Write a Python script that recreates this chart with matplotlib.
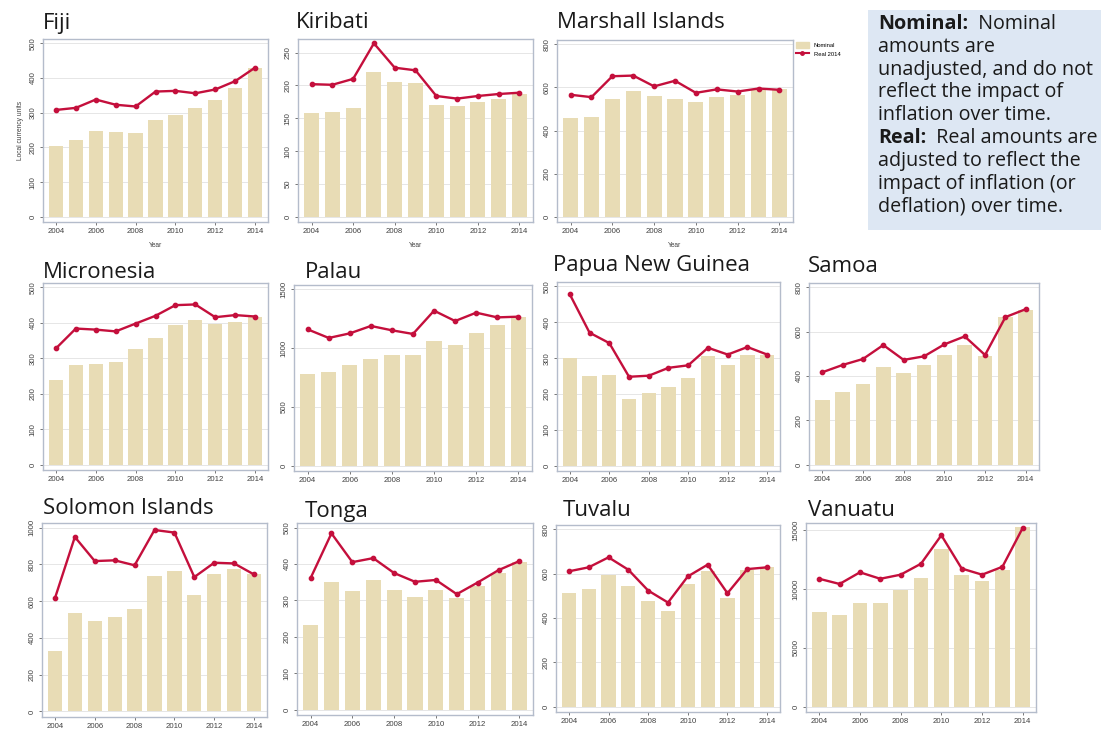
import matplotlib
matplotlib.use("Agg")
import matplotlib.pyplot as plt
from matplotlib.patches import Rectangle
from matplotlib.lines import Line2D

years = list(range(2004, 2015))

fiji_nominal = [205, 221, 247, 243, 242, 279, 293, 313, 337, 371, 428]
fiji_real = [308, 314, 338, 323, 318, 361, 363, 356, 367, 391, 430]

kiribati_nominal = [158, 159, 166, 220, 205, 203, 170, 169, 175, 180, 187]
kiribati_real = [202, 201, 210, 264, 227, 223, 184, 180, 184, 187, 189]

marshall_nominal = [458, 461, 546, 585, 558, 545, 531, 554, 565, 588, 592]
marshall_real = [566, 555, 652, 655, 605, 631, 575, 591, 581, 595, 589]

micronesia_nominal = [238, 282, 284, 290, 325, 358, 393, 408, 398, 403, 417]
micronesia_real = [328, 384, 381, 376, 398, 420, 450, 452, 416, 422, 418]

palau_nominal = [781, 798, 857, 906, 940, 945, 1064, 1027, 1132, 1200, 1268]
palau_real = [1160, 1087, 1126, 1189, 1152, 1121, 1319, 1231, 1302, 1262, 1268]

png_nominal = [300, 251, 253, 186, 203, 219, 244, 306, 280, 308, 310]
png_real = [478, 371, 342, 248, 251, 273, 280, 329, 310, 331, 310]

samoa_nominal = [294, 327, 366, 440, 414, 450, 495, 542, 489, 665, 700]
samoa_real = [417, 450, 477, 540, 473, 489, 543, 579, 495, 666, 702]

solomon_nominal = [331, 535, 491, 513, 555, 736, 765, 635, 747, 776, 745]
solomon_real = [616, 949, 818, 822, 795, 987, 973, 731, 809, 805, 745]

tonga_nominal = [233, 351, 326, 357, 329, 309, 329, 307, 340, 375, 405]
tonga_real = [361, 484, 405, 416, 375, 351, 356, 317, 349, 383, 408]

tuvalu_nominal = [515, 532, 595, 545, 477, 432, 555, 614, 492, 618, 630]
tuvalu_real = [611, 629, 674, 618, 524, 470, 588, 641, 512, 621, 629]

vanuatu_nominal = [8010, 7810, 8830, 8830, 9880, 10920, 13400, 11160, 10720, 11590, 15230]
vanuatu_real = [10870, 10430, 11420, 10870, 11220, 12150, 14570, 11740, 11220, 11890, 15200]

y_ticks = {
    "Fiji": (500, 100), "Kiribati": (250, 50), "Marshall Islands": (800, 200),
    "Micronesia": (500, 100), "Palau": (1500, 500), "Papua New Guinea": (500, 100),
    "Samoa": (800, 200), "Solomon Islands": (1000, 200), "Tonga": (500, 100),
    "Tuvalu": (800, 200), "Vanuatu": (15000, 5000),
}

W, H = 1101, 731
BAR_COLOR = "#e8dcb5"
LINE_COLOR = "#c40f3c"
FRAME_COLOR = "#b4bccb"
TICK_FONT = "Liberation Sans"
TITLE_FONT = "Open Sans"

# panels: name, nominal, real, frame box (left, top, right, bottom) in pixels, title anchor
panels = [
    ("Fiji", fiji_nominal, fiji_real, (43, 39, 268, 222), (43, 23)),
    ("Kiribati", kiribati_nominal, kiribati_real, (298, 39, 533, 222), (296, 22)),
    ("Marshall Islands", marshall_nominal, marshall_real, (557, 40, 793, 222), (557, 22)),
    ("Micronesia", micronesia_nominal, micronesia_real, (43, 283, 268, 470), (43, 272)),
    ("Palau", palau_nominal, palau_real, (294, 285, 532, 471), (305, 272)),
    ("Papua New Guinea", png_nominal, png_real, (557, 282, 780, 471), (553, 266)),
    ("Samoa", samoa_nominal, samoa_real, (809, 283, 1039, 470), (808, 266)),
    ("Solomon Islands", solomon_nominal, solomon_real, (42, 523, 267, 717), (43, 509)),
    ("Tonga", tonga_nominal, tonga_real, (297, 523, 533, 715), (305, 511)),
    ("Tuvalu", tuvalu_nominal, tuvalu_real, (556, 525, 780, 712), (563, 510)),
    ("Vanuatu", vanuatu_nominal, vanuatu_real, (806, 523, 1036, 712), (808, 510)),
]

fig = plt.figure(figsize=(W / 100, H / 100), dpi=100)
fig.patch.set_facecolor("white")


def px_box(l, t, r, b):
    return [l / W, 1 - b / H, (r - l) / W, (b - t) / H]


axes = {}
for name, nominal, real, box, title_xy in panels:
    ax = fig.add_axes(px_box(*box))
    axes[name] = ax
    top, step = y_ticks[name]
    span = max(top, max(nominal), max(real))
    ax.set_ylim(-0.03 * top, span * 1.025)
    ax.set_xlim(2003.35, 2014.65)
    ax.set_yticks(list(range(0, top + 1, step)))
    ax.set_xticks(years[::2])
    ax.grid(axis="y", color="#e6e6e6", linewidth=0.7)
    ax.set_axisbelow(True)
    ax.bar(years, nominal, width=0.72, color=BAR_COLOR, zorder=2)
    ax.plot(years, real, color=LINE_COLOR, linewidth=1.7, marker="o",
            markersize=3.1, zorder=3)
    for sp in ax.spines.values():
        sp.set_color(FRAME_COLOR)
        sp.set_linewidth(1.0)
    ax.tick_params(axis="both", length=2.5, width=0.6, color="#606060",
                   labelsize=5.6, labelcolor="#404040", pad=2)
    for lab in ax.get_yticklabels():
        lab.set_rotation(90)
        lab.set_va("center")
        lab.set_family(TICK_FONT)
    for lab in ax.get_xticklabels():
        lab.set_family(TICK_FONT)
    fig.text(title_xy[0] / W, 1 - title_xy[1] / H, name, fontsize=16,
             family=TITLE_FONT, color="#1a1a1a", ha="left", va="center")

# axis titles on the top row
axes["Fiji"].set_ylabel("Local currency units", fontsize=4.8, family=TICK_FONT,
                        color="#404040", labelpad=4)
for name in ("Fiji", "Kiribati", "Marshall Islands"):
    axes[name].set_xlabel("Year", fontsize=4.8, family=TICK_FONT,
                          color="#404040", labelpad=5)

# legend beside Marshall Islands
leg_handles = [
    Rectangle((0, 0), 1, 1, color=BAR_COLOR),
    Line2D([0], [0], color=LINE_COLOR, linewidth=1.5, marker="o", markersize=2.5),
]
fig.legend(leg_handles, ["Nominal", "Real 2014"], loc="upper left",
           bbox_to_anchor=(796 / W, 1 - 42 / H), frameon=False,
           prop={"family": TICK_FONT, "size": 4.2}, handlelength=2.2,
           handleheight=1.2, labelspacing=0.5, handletextpad=0.8,
           borderaxespad=0, borderpad=0)

# explanatory note box
fig.patches.append(Rectangle((868 / W, 1 - 230 / H), (W - 868) / W, 220 / H,
                             transform=fig.transFigure, facecolor="#dde7f3",
                             edgecolor="none", zorder=0))

note_lines = [
    ("Nominal:", "  Nominal"),
    ("", "amounts are"),
    ("", "unadjusted, and do not"),
    ("", "reflect the impact of"),
    ("", "inflation over time."),
    ("Real:", "  Real amounts are"),
    ("", "adjusted to reflect the"),
    ("", "impact of inflation (or"),
    ("", "deflation) over time."),
]
renderer = fig.canvas.get_renderer()
x0 = 878
y_first, y_step = 24, 22.8
for i, (bold, rest) in enumerate(note_lines):
    y = 1 - (y_first + i * y_step) / H
    x = x0 / W
    if bold:
        t = fig.text(x, y, bold, fontsize=14.2, family="Open Sans",
                     fontweight="bold", color="#1a1a1a", va="center", ha="left")
        bb = t.get_window_extent(renderer=renderer)
        x = bb.x1 / W
    fig.text(x, y, rest, fontsize=14.2, family="Open Sans", color="#1a1a1a",
             va="center", ha="left")

fig.savefig("out.png", dpi=100)
